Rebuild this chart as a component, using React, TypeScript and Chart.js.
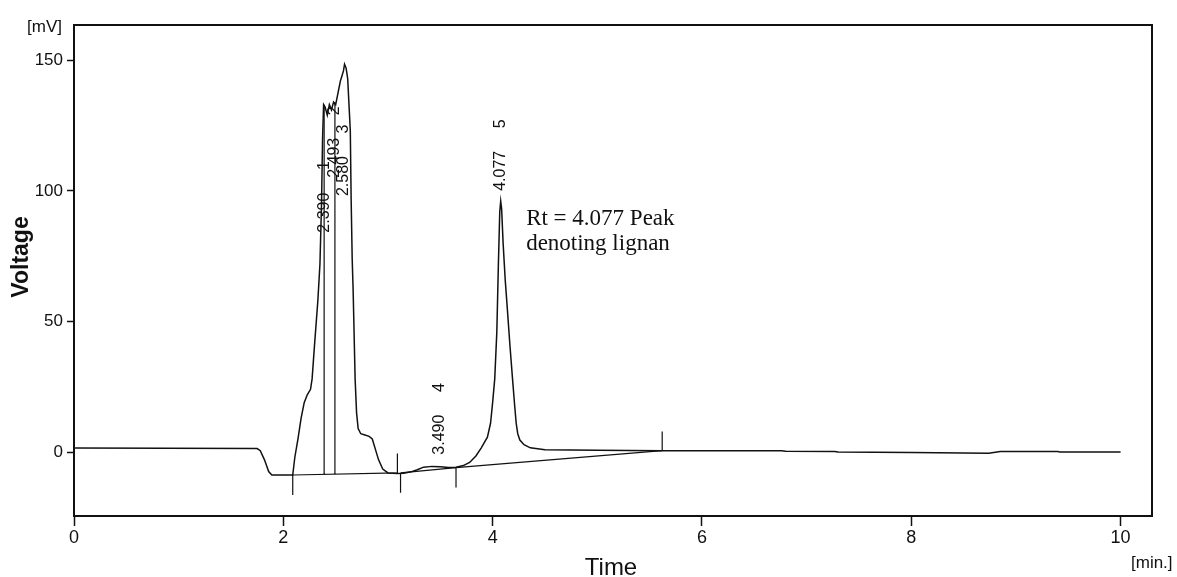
import React, { useEffect, useRef } from 'react';
import { Chart, registerables } from 'chart.js';

Chart.register(...registerables);

// ---- Chromatogram trace (time in min, voltage in mV) ----
const traceTime = [
  0, 1.75, 1.78, 1.82, 1.86, 1.89, 2.09, 2.11, 2.14, 2.17, 2.2, 2.23, 2.26, 2.275, 2.3, 2.33, 2.35,
  2.365, 2.375, 2.385, 2.4, 2.42, 2.44, 2.46, 2.48, 2.5, 2.515, 2.53, 2.545, 2.56, 2.575, 2.585, 2.6,
  2.615, 2.63, 2.64, 2.648, 2.658, 2.667, 2.686, 2.7, 2.715, 2.74, 2.78, 2.82, 2.85, 2.88, 2.91, 2.95,
  3.0, 3.09, 3.15, 3.22, 3.28, 3.34, 3.42, 3.5, 3.58, 3.65, 3.72, 3.78, 3.84, 3.89, 3.95, 3.98, 4.0,
  4.02, 4.04, 4.055, 4.068, 4.077, 4.086, 4.1, 4.12, 4.14, 4.165, 4.19, 4.21, 4.225, 4.24, 4.26, 4.3, 4.36,
  4.5, 5.0, 5.62, 6.76, 6.8, 7.27, 7.3, 8.0, 8.74, 8.85, 9.4, 9.42, 10.0,
];
const traceVoltage = [
  1.5, 1.3, 0.5, -3, -7.5, -8.8, -8.8, -2, 5, 13, 19, 22, 24, 28, 42, 58, 72,
  95, 120, 133, 132, 129, 133, 131, 134, 133, 136, 139, 142, 144, 146, 148.5, 147,
  143, 131, 123, 97, 74, 62, 28, 15, 9, 7, 6.5, 6, 5, 1, -3, -6.5,
  -8, -8.2, -8.1, -7.6, -6.8, -5.8, -5.5, -5.6, -5.9, -5.8, -5.2, -4, -1.5, 1.5, 5.7, 11, 19,
  28, 46, 72, 92, 96, 93, 80, 66, 55, 41, 28, 18, 11, 7, 4.6, 2.8, 1.6,
  0.9, 0.7, 0.5, 0.5, 0.3, 0.2, 0, -0.2, -0.5, 0.2, 0.2, 0, 0,
];

// ---- Peak annotations ----
const peakTimes = [2.39, 2.493, 2.58, 3.49, 4.077];
const peakNumbers = ['1', '2', '3', '4', '5'];
const peakLabelLevels = [84, 105, 98, -1, 100];

// ---- Drop lines from peak apex to baseline ----
const dropLineTimes = [2.39, 2.493];
const dropLineTops = [133, 134];
const dropLineBottoms = [-8.7, -8.6];

// ---- Integration baselines ----
const baselineStartTimes = [2.09, 3.12, 3.65];
const baselineStartValues = [-8.8, -8.0, -6.0];
const baselineEndTimes = [3.09, 3.65, 5.62];
const baselineEndValues = [-8.0, -6.0, 0.5];

// ---- Integration start/end markers ----
const markerTimes = [2.09, 3.09, 3.12, 3.65, 5.62];
const markerFrom = [-8.8, -8.0, -8.0, -6.0, 0.5];
const markerTo = [-16.5, -0.6, -15.6, -13.6, 7.9];

// ---- Axes ----
const xMin = 0;
const xMax = 10.3;
const xStep = 2;
const yMin = -24.5;
const yMax = 163.5;
const yStep = 50;

const annotationLines = ['Rt = 4.077 Peak', 'denoting lignan'];
const annotationTime = 4.32;
const annotationLevel = 87;

const SANS = "'Liberation Sans', Arial, sans-serif";
const SERIF = "'Liberation Serif', 'Times New Roman', serif";

export default function App() {
  const canvasRef = useRef<HTMLCanvasElement | null>(null);

  useEffect(() => {
    const canvas = canvasRef.current;
    if (!canvas) return;

    const trace = traceTime.map((t, i) => ({ x: t, y: traceVoltage[i] }));

    const integ: { x: number; y: number | null }[] = [];
    baselineStartTimes.forEach((t, i) => {
      integ.push({ x: t, y: baselineStartValues[i] });
      integ.push({ x: baselineEndTimes[i], y: baselineEndValues[i] });
      integ.push({ x: baselineEndTimes[i], y: null });
    });
    dropLineTimes.forEach((t, i) => {
      integ.push({ x: t, y: dropLineBottoms[i] });
      integ.push({ x: t, y: dropLineTops[i] });
      integ.push({ x: t, y: null });
    });
    markerTimes.forEach((t, i) => {
      integ.push({ x: t, y: markerFrom[i] });
      integ.push({ x: t, y: markerTo[i] });
      integ.push({ x: t, y: null });
    });

    const textPlugin = {
      id: 'textPlugin',
      afterDatasetsDraw(chart: any) {
        const { ctx, chartArea, scales } = chart;
        const xs = scales.x;
        const ys = scales.y;
        ctx.save();
        // frame
        ctx.strokeStyle = '#111';
        ctx.lineWidth = 2;
        ctx.strokeRect(chartArea.left, chartArea.top, chartArea.right - chartArea.left, chartArea.bottom - chartArea.top);

        // peak labels
        ctx.fillStyle = '#111';
        ctx.font = `16px ${SANS}`;
        peakTimes.forEach((t, i) => {
          const px = xs.getPixelForValue(t);
          const py = ys.getPixelForValue(peakLabelLevels[i]);
          ctx.save();
          ctx.translate(px, py);
          ctx.rotate(-Math.PI / 2);
          ctx.textAlign = 'left';
          ctx.textBaseline = 'middle';
          ctx.fillText(t.toFixed(3), 0, 0);
          ctx.textAlign = 'center';
          ctx.fillText(peakNumbers[i], 67, 0);
          ctx.restore();
        });

        // annotation
        ctx.font = `23px ${SERIF}`;
        ctx.textAlign = 'left';
        ctx.textBaseline = 'alphabetic';
        const ax = xs.getPixelForValue(annotationTime);
        const ay = ys.getPixelForValue(annotationLevel);
        annotationLines.forEach((line, i) => ctx.fillText(line, ax, ay + i * 25));

        // axis titles and units
        ctx.save();
        ctx.translate(22, 257);
        ctx.rotate(-Math.PI / 2);
        ctx.font = `bold 23px ${SANS}`;
        ctx.textAlign = 'center';
        ctx.textBaseline = 'middle';
        ctx.fillText('Voltage', 0, 0);
        ctx.restore();

        ctx.font = `24px ${SANS}`;
        ctx.textAlign = 'center';
        ctx.textBaseline = 'alphabetic';
        ctx.fillText('Time', 611, 575);

        ctx.font = `17px ${SANS}`;
        ctx.textAlign = 'right';
        ctx.fillText('[mV]', 62, 32);
        ctx.textAlign = 'left';
        ctx.fillText('[min.]', 1131, 568);
        ctx.restore();
      },
    };

    const chart = new Chart(canvas, {
      type: 'line',
      data: {
        datasets: [
          {
            data: trace,
            borderColor: '#111',
            borderWidth: 1.5,
            pointRadius: 0,
            tension: 0,
          },
          {
            data: integ as any,
            borderColor: '#111',
            borderWidth: 1.2,
            pointRadius: 0,
            tension: 0,
            spanGaps: false,
          },
        ],
      },
      options: {
        animation: false,
        responsive: false,
        events: [],
        layout: { padding: { top: 25, right: 25, left: 0, bottom: 0 } },
        plugins: { legend: { display: false }, tooltip: { enabled: false }, title: { display: false } },
        scales: {
          x: {
            type: 'linear',
            min: xMin,
            max: xMax,
            afterFit: (s: any) => {
              s.height = 61;
            },
            ticks: {
              stepSize: xStep,
              includeBounds: false,
              color: '#111',
              padding: 1,
              maxRotation: 0,
              font: { family: SANS, size: 18 },
            },
            grid: { drawOnChartArea: false, drawTicks: true, tickLength: 10, color: '#111', tickWidth: 1.5 },
            border: { display: true, color: '#111', width: 2 },
          },
          y: {
            type: 'linear',
            min: yMin,
            max: yMax,
            afterFit: (s: any) => {
              s.width = 74;
            },
            ticks: {
              stepSize: yStep,
              includeBounds: false,
              color: '#111',
              padding: 4,
              font: { family: SANS, size: 17 },
            },
            grid: { drawOnChartArea: false, drawTicks: true, tickLength: 7, color: '#111', tickWidth: 1.5 },
            border: { display: true, color: '#111', width: 2 },
          },
        },
      },
      plugins: [textPlugin],
    });

    return () => chart.destroy();
  }, []);

  return (
    <div style={{ position: 'fixed', left: 0, top: 0, width: 1177, height: 577, background: '#fff' }}>
      <canvas ref={canvasRef} width={1177} height={577} style={{ width: 1177, height: 577 }} />
    </div>
  );
}
